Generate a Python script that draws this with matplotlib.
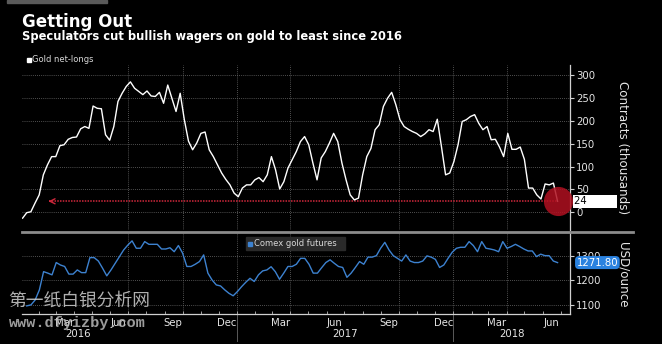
import numpy as np
import pandas as pd
import matplotlib
matplotlib.use('Agg')
import matplotlib.pyplot as plt
import matplotlib.dates as mdates
from matplotlib.patches import Rectangle
from matplotlib.lines import Line2D
from matplotlib.transforms import blended_transform_factory

# weekly CFTC net longs (thousands of contracts)
net_longs = [-13, -1, 1, 20, 38, 82, 104, 122, 122, 146,
             148, 160, 164, 165, 183, 188, 184, 233, 228, 227,
             170, 158, 188, 243, 261, 276, 286, 272, 265, 258,
             266, 255, 254, 263, 239, 279, 250, 221, 261, 203,
             156, 137, 152, 173, 176, 137, 122, 104, 86, 72,
             60, 42, 34, 53, 60, 60, 71, 76, 67, 82,
             122, 93, 51, 67, 97, 115, 133, 155, 166, 148,
             108, 71, 119, 133, 152, 173, 155, 108, 71, 38,
             27, 31, 82, 122, 140, 181, 192, 232, 250, 263,
             236, 203, 188, 182, 177, 173, 166, 172, 181, 177,
             204, 144, 82, 86, 111, 148, 199, 203, 210, 214,
             195, 181, 188, 159, 160, 143, 122, 173, 138, 138,
             143, 116, 53, 53, 38, 29, 62, 60, 64, 24]

# Comex gold futures, USD/ounce
gold = [1096, 1100, 1120, 1161, 1235, 1229, 1222, 1272, 1262, 1256,
        1225, 1225, 1242, 1231, 1231, 1292, 1292, 1278, 1249, 1218,
        1242, 1269, 1296, 1323, 1343, 1360, 1330, 1330, 1357, 1346,
        1346, 1346, 1327, 1327, 1332, 1316, 1341, 1310, 1256, 1256,
        1265, 1276, 1303, 1229, 1201, 1181, 1177, 1161, 1147, 1137,
        1154, 1174, 1192, 1208, 1195, 1222, 1238, 1242, 1255, 1235,
        1204, 1229, 1256, 1256, 1265, 1289, 1289, 1265, 1229, 1229,
        1251, 1272, 1283, 1269, 1256, 1252, 1212, 1229, 1252, 1276,
        1265, 1294, 1294, 1300, 1330, 1354, 1323, 1300, 1289, 1278,
        1303, 1278, 1272, 1272, 1278, 1299, 1294, 1285, 1252, 1262,
        1289, 1314, 1330, 1334, 1334, 1357, 1341, 1316, 1357, 1330,
        1327, 1323, 1316, 1357, 1330, 1337, 1346, 1337, 1327, 1319,
        1319, 1296, 1306, 1300, 1300, 1278, 1271.8]

month_labels = ['Mar', 'Jun', 'Sep', 'Dec', 'Mar', 'Jun', 'Sep', 'Dec', 'Mar', 'Jun']
month_dates = ['2016-03-15', '2016-06-15', '2016-09-15', '2016-12-15', '2017-03-15',
               '2017-06-15', '2017-09-15', '2017-12-15', '2018-03-15', '2018-06-15']
grid_dates = ['2016-07-01', '2016-10-01', '2017-01-01', '2017-04-01',
              '2017-10-01', '2018-01-01', '2018-04-01']
years = ['2016', '2017', '2018']
year_dates = ['2016-04-08', '2017-07-02', '2018-04-10']

nl_dates = pd.date_range('2016-01-05', periods=len(net_longs), freq='7D')
gold_dates = pd.date_range('2016-01-12', nl_dates[-1], periods=len(gold))

W, H = 662, 344
fig = plt.figure(figsize=(W / 100, H / 100), dpi=100, facecolor='black')

def fx(px):
    return px / W

def fy(py):
    return 1 - py / H

ax1 = fig.add_axes([fx(22), fy(230), fx(570) - fx(22), fy(65) - fy(230)], facecolor='black')
ax2 = fig.add_axes([fx(22), fy(314), fx(570) - fx(22), fy(232) - fy(314)], facecolor='black')

xmin = pd.Timestamp('2016-01-04')
xmax = pd.Timestamp('2018-07-17')
grid_col = '#6a6a6a'
txt_col = '#e6e6e6'

for ax in (ax1, ax2):
    ax.set_xlim(xmin, xmax)
    for s in ['left', 'top', 'bottom']:
        ax.spines[s].set_visible(False)
    ax.spines['right'].set_color('#d0d0d0')
    ax.spines['right'].set_linewidth(0.9)
    ax.yaxis.tick_right()
    ax.tick_params(axis='y', colors='#d0d0d0', labelcolor=txt_col, labelsize=7.3,
                   length=3, width=0.8, pad=1.5)
    for d in grid_dates:
        ax.axvline(pd.Timestamp(d), color=grid_col, lw=0.6, ls=(0, (1, 1.5)), zorder=0)

# --- top panel
ax1.plot(nl_dates, net_longs, color='white', lw=1.0, zorder=3)
ax1.set_ylim(-39, 323)
ax1.set_yticks([0, 50, 100, 150, 200, 250, 300])
ax1.yaxis.grid(True, color=grid_col, lw=0.6, ls=(0, (1, 1.5)))
ax1.set_axisbelow(True)
ax1.set_xticks([])

last_val = net_longs[-1]
red = '#c0142a'
ax1.plot([pd.Timestamp('2016-02-18'), nl_dates[-1]], [last_val, last_val],
         color='#d0283c', lw=1.1, ls=(0, (1, 0.8)), zorder=2)
ax1.annotate('', xy=(pd.Timestamp('2016-02-13'), last_val),
             xytext=(pd.Timestamp('2016-02-25'), last_val),
             arrowprops=dict(arrowstyle='->', color='#d0283c', lw=1.0,
                             mutation_scale=9), zorder=2)
ax1.plot([nl_dates[-1]], [last_val], 'o', ms=21, color='#b01020', alpha=0.85,
         mec='none', zorder=4, clip_on=False)

tr1 = blended_transform_factory(ax1.transAxes, ax1.transData)
ax1.text(1.007, last_val, '24         ', transform=tr1, fontsize=7.3, color='black',
         va='center', ha='left',
         bbox=dict(boxstyle='square,pad=0.12', fc='white', ec='none'), zorder=5)
fig.text(fx(623), fy(148), 'Contracts (thousands)', rotation=-90, color=txt_col,
         fontsize=8.6, ha='center', va='center')

# legend top
fig.add_artist(Rectangle((fx(27), fy(62)), fx(4), fy(58) - fy(62), color='white',
                         transform=fig.transFigure))
fig.text(fx(32.5), fy(60), 'Gold net-longs', color='#d8d8d8', fontsize=6.0, va='center')

# --- bottom panel
ax2.plot(gold_dates, gold, color='#3d82d0', lw=1.0, zorder=3)
ax2.set_ylim(1063, 1396)
ax2.set_yticks([1100, 1200, 1300])
ax2.yaxis.grid(True, color=grid_col, lw=0.6, ls=(0, (1, 1.5)))
ax2.set_axisbelow(True)
ax2.spines['bottom'].set_visible(True)
ax2.spines['bottom'].set_color('#d0d0d0')
ax2.spines['bottom'].set_linewidth(0.9)

ax2.xaxis.set_minor_locator(mdates.MonthLocator())
ax2.set_xticks([pd.Timestamp(d) for d in month_dates])
ax2.set_xticklabels(month_labels)
ax2.tick_params(axis='x', which='major', length=0, labelsize=7.3, colors=txt_col, pad=3)
ax2.tick_params(axis='x', which='minor', length=2.5, width=0.7, colors='#a0a0a0',
                direction='in')

for d, y in zip(year_dates, years):
    ax2.text(pd.Timestamp(d), -0.24, y, transform=blended_transform_factory(ax2.transData, ax2.transAxes),
             color=txt_col, fontsize=7.3, ha='center', va='center')
for d in ['2017-01-01', '2018-01-01']:
    ax2.plot([pd.Timestamp(d)] * 2, [0, -0.33], color='#5a5a5a', lw=0.7,
             transform=blended_transform_factory(ax2.transData, ax2.transAxes), clip_on=False)

tr2 = blended_transform_factory(ax2.transAxes, ax2.transData)
ax2.text(1.012, gold[-1], '%.2f' % gold[-1], transform=tr2, fontsize=7.3, color='white',
         va='center', ha='left',
         bbox=dict(boxstyle='round,pad=0.15,rounding_size=0.4', fc='#2a82e0', ec='none'), zorder=5)
fig.text(fx(623), fy(275), 'USD/ounce', rotation=-90, color=txt_col,
         fontsize=8.6, ha='center', va='center')

# legend bottom
fig.add_artist(Rectangle((fx(246), fy(250)), fx(99), fy(237) - fy(250), color='#2a2a2a',
                         transform=fig.transFigure))
fig.add_artist(Rectangle((fx(248), fy(246)), fx(4), fy(242) - fy(246), color='#3d82d0',
                         transform=fig.transFigure))
fig.text(fx(253.5), fy(243.5), 'Comex gold futures', color='#d8d8d8', fontsize=6.0, va='center')

# separator and top bar
fig.add_artist(Line2D([fx(22), fx(633)], [fy(232), fy(232)], color='#8c8c8c', lw=2.0,
                      transform=fig.transFigure))
fig.add_artist(Rectangle((fx(7), fy(3)), fx(100), fy(0) - fy(3), color='#5a5a5a',
                         transform=fig.transFigure))

# titles
fig.text(fx(22), fy(27), 'Getting Out', color='white', fontsize=12, fontweight='bold',
         va='baseline')
fig.text(fx(22), fy(40), 'Speculators cut bullish wagers on gold to least since 2016',
         color='white', fontsize=8.3, fontweight='bold', va='baseline')

# watermark
fig.text(fx(8), fy(301), '第一纸白银分析网', color='#cfcfcf', alpha=0.85, fontsize=12.8,
         family=['Noto Sans CJK SC', 'DejaVu Sans'], va='center')
fig.text(fx(9), fy(323), 'www.dfyizby.com', color='#b8b8b8', alpha=0.85, fontsize=11,
         family='Liberation Mono', fontweight='bold', va='center')

fig.savefig('out.png', dpi=100, facecolor='black')
